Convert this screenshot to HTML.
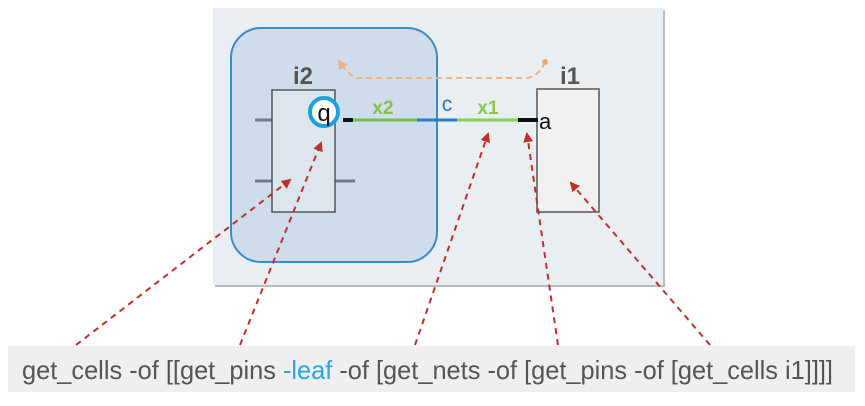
<!DOCTYPE html>
<html><head><meta charset="utf-8"><style>
html,body{margin:0;padding:0;background:#fff;width:865px;height:406px;overflow:hidden}
svg{display:block}
</style></head><body>
<svg width="865" height="406" viewBox="0 0 865 406" xmlns="http://www.w3.org/2000/svg" font-family="Liberation Sans, sans-serif">
<defs>
<marker id="ar" markerWidth="10" markerHeight="10" refX="8" refY="5" orient="auto" markerUnits="userSpaceOnUse">
<path d="M0,0 L10,5 L0,10 z" fill="#c0302a"/></marker>
<marker id="ao" markerWidth="10" markerHeight="10" refX="8" refY="5" orient="auto" markerUnits="userSpaceOnUse">
<path d="M0,0 L10,5 L0,10 z" fill="#f0b080"/></marker>
</defs>
<rect x="215" y="10" width="450" height="277" fill="#b8bcc0"/>
<rect x="213" y="8" width="450" height="277" fill="#e9eef2"/>
<rect x="231" y="28" width="206" height="234" rx="30" fill="#cfdcec" stroke="#3a8cc8" stroke-width="2"/>
<line x1="255" y1="120" x2="272" y2="120" stroke="#6e7c88" stroke-width="3"/>
<line x1="255" y1="181" x2="272" y2="181" stroke="#6e7c88" stroke-width="3"/>
<line x1="335" y1="181" x2="355" y2="181" stroke="#6e7c88" stroke-width="3"/>
<rect x="272" y="90" width="63" height="122" fill="#dde5ef" stroke="#555" stroke-width="1.5"/>
<rect x="537" y="89" width="62" height="123" fill="#f1f1f1" stroke="#555" stroke-width="1.5"/>
<text x="303" y="84" font-size="24" font-weight="bold" fill="#555" text-anchor="middle">i2</text>
<text x="570" y="84" font-size="24" font-weight="bold" fill="#555" text-anchor="middle">i1</text>
<line x1="343" y1="120" x2="353" y2="120" stroke="#111" stroke-width="4"/>
<line x1="353" y1="120" x2="417" y2="120" stroke="#7cc04a" stroke-width="3"/>
<line x1="417" y1="120" x2="457" y2="120" stroke="#2a7cc4" stroke-width="3"/>
<line x1="457" y1="120" x2="518" y2="120" stroke="#8cd050" stroke-width="3"/>
<line x1="518" y1="120" x2="538" y2="120" stroke="#111" stroke-width="4"/>
<circle cx="324" cy="112" r="14" fill="#fff" stroke="#1da0dc" stroke-width="4"/>
<text x="324" y="121" font-size="24" fill="#111" text-anchor="middle">q</text>
<text x="539" y="129" font-size="22" fill="#111">a</text>
<text x="383" y="114" font-size="19" font-weight="bold" fill="#88c048" text-anchor="middle">x2</text>
<text x="447" y="111" font-size="21" fill="#2a78c0" text-anchor="middle">c</text>
<text x="488" y="114" font-size="19" font-weight="bold" fill="#88c850" text-anchor="middle">x1</text>
<path d="M545,62 Q538,78 525,78 L356,78 Q348,74 339,61" fill="none" stroke="#f0b080" stroke-width="2" stroke-dasharray="6,4" marker-end="url(#ao)"/>
<circle cx="545" cy="62" r="3" fill="#f0a868"/>
<rect x="8" y="346" width="847" height="46" fill="#efefef"/>
<text x="22" y="379" font-size="26" fill="#555" textLength="811" lengthAdjust="spacingAndGlyphs">get_cells -of [[get_pins <tspan fill="#28a8e0">-leaf</tspan> -of [get_nets -of [get_pins -of [get_cells i1]]]]</text>
<g fill="none" stroke="#c0302a" stroke-width="2" stroke-dasharray="6,5">
<line x1="76" y1="345" x2="290" y2="180" marker-end="url(#ar)"/>
<line x1="240" y1="345" x2="321" y2="143" marker-end="url(#ar)"/>
<line x1="415" y1="345" x2="488" y2="134" marker-end="url(#ar)"/>
<line x1="558" y1="345" x2="527" y2="134" marker-end="url(#ar)"/>
<line x1="710" y1="345" x2="571" y2="183" marker-end="url(#ar)"/>
</g>
</svg>
</body></html>
